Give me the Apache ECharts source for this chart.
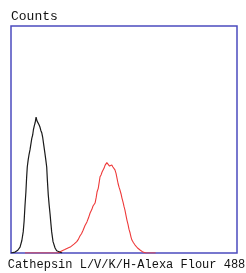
<!DOCTYPE html>
<html>
<head>
<meta charset="utf-8">
<script src="https://cdn.jsdelivr.net/npm/echarts@6/dist/echarts.min.js"></script>
<style>
  html, body { margin: 0; padding: 0; background: #fff; }
  #main { width: 246px; height: 273px; }
</style>
</head>
<body>
<div id="main"></div>
<script>
// 荧光强度通道 (0-1000) 对应计数 (0-100)
const isotypeX = [0, 18, 30, 40, 48, 54, 58, 62, 66, 69, 72, 76, 80, 84, 88, 92, 96, 99, 103, 107, 111, 115, 119, 124, 128, 132, 136, 140, 145, 150, 154, 158, 161, 165, 169, 173, 177, 180, 186, 195, 202, 208, 226]
const isotypeY = [0, 0.4, 1.2, 2.6, 5.5, 9.3, 14, 21, 27, 33, 37.9, 41, 43.5, 45.4, 48, 50.5, 52, 54.2, 56, 57.5, 59.9, 58.2, 58, 56.5, 55.5, 54, 53, 51.1, 47.5, 44, 41, 37.9, 32, 25.5, 21, 17, 12.5, 9.3, 5, 2.2, 1, 0.4, 0]

const sampleX = [62, 150, 208, 224, 238, 252, 262, 270, 280, 291, 298, 305, 312, 319, 327, 336, 343, 350, 357, 363, 368, 372, 377, 381, 386, 390, 394, 399, 403, 408, 412, 416, 420, 424, 428, 432, 436, 441, 446, 451, 456, 460, 465, 469, 474, 478, 482, 487, 491, 496, 500, 504, 509, 513, 518, 522, 527, 531, 535, 542, 549, 560, 571, 584, 597, 640]
const sampleY = [0, 0, 0, 0.9, 1.5, 2.2, 2.6, 3.1, 4, 5, 6, 7.5, 8.5, 10, 12, 13.7, 15.5, 17.6, 19, 20.7, 21, 22, 24.5, 27, 28.5, 31, 33.6, 34.5, 35.7, 36.2, 37.4, 38.6, 39.2, 39.8, 39.5, 39.9, 38.3, 39, 38.8, 37.9, 37.5, 36.6, 35, 33, 30.5, 29, 27.8, 26, 24.2, 22.3, 20.5, 19, 16.5, 14.5, 12.5, 10.5, 8.8, 7, 5.7, 4.5, 3.5, 2.2, 1.3, 0.4, 0, 0]

const xName = 'Cathepsin L/V/K/H-Alexa Flour 488'
const yName = 'Counts'

const pair = (xs, ys) => xs.map((x, i) => [x, ys[i]])

const chart = echarts.init(document.getElementById('main'))

const option = {
    animation: false,
    backgroundColor: '#fff',
    grid: {
        left: 11,
        top: 26,
        right: 9,
        bottom: 20,
        outerBoundsMode: 'none',
        show: true,
        borderColor: '#4b4bbf',
        borderWidth: 1.5
    },
    xAxis: {
        type: 'value',
        min: 0,
        max: 1000,
        name: xName,
        nameLocation: 'middle',
        nameGap: 6,
        nameTextStyle: {
            fontFamily: 'Liberation Mono',
            fontSize: 12,
            color: '#111',
            padding: [0, 0, 0, 5]
        },
        axisLine: { show: false },
        axisTick: { show: false },
        axisLabel: { show: false },
        splitLine: { show: false }
    },
    yAxis: {
        type: 'value',
        min: 0,
        max: 100,
        name: yName,
        nameLocation: 'end',
        nameGap: 3,
        nameTextStyle: {
            fontFamily: 'Liberation Mono',
            fontSize: 13,
            color: '#111',
            align: 'left'
        },
        axisLine: { show: false },
        axisTick: { show: false },
        axisLabel: { show: false },
        splitLine: { show: false }
    },
    series: [
        {
            type: 'line',
            data: pair(sampleX, sampleY),
            symbol: 'none',
            lineStyle: { color: '#ee3a3a', width: 1.1 }
        },
        {
            type: 'line',
            data: pair(isotypeX, isotypeY),
            symbol: 'none',
            lineStyle: { color: '#1a1a1a', width: 1.2 }
        }
    ]
}

chart.setOption(option)
</script>
</body>
</html>
